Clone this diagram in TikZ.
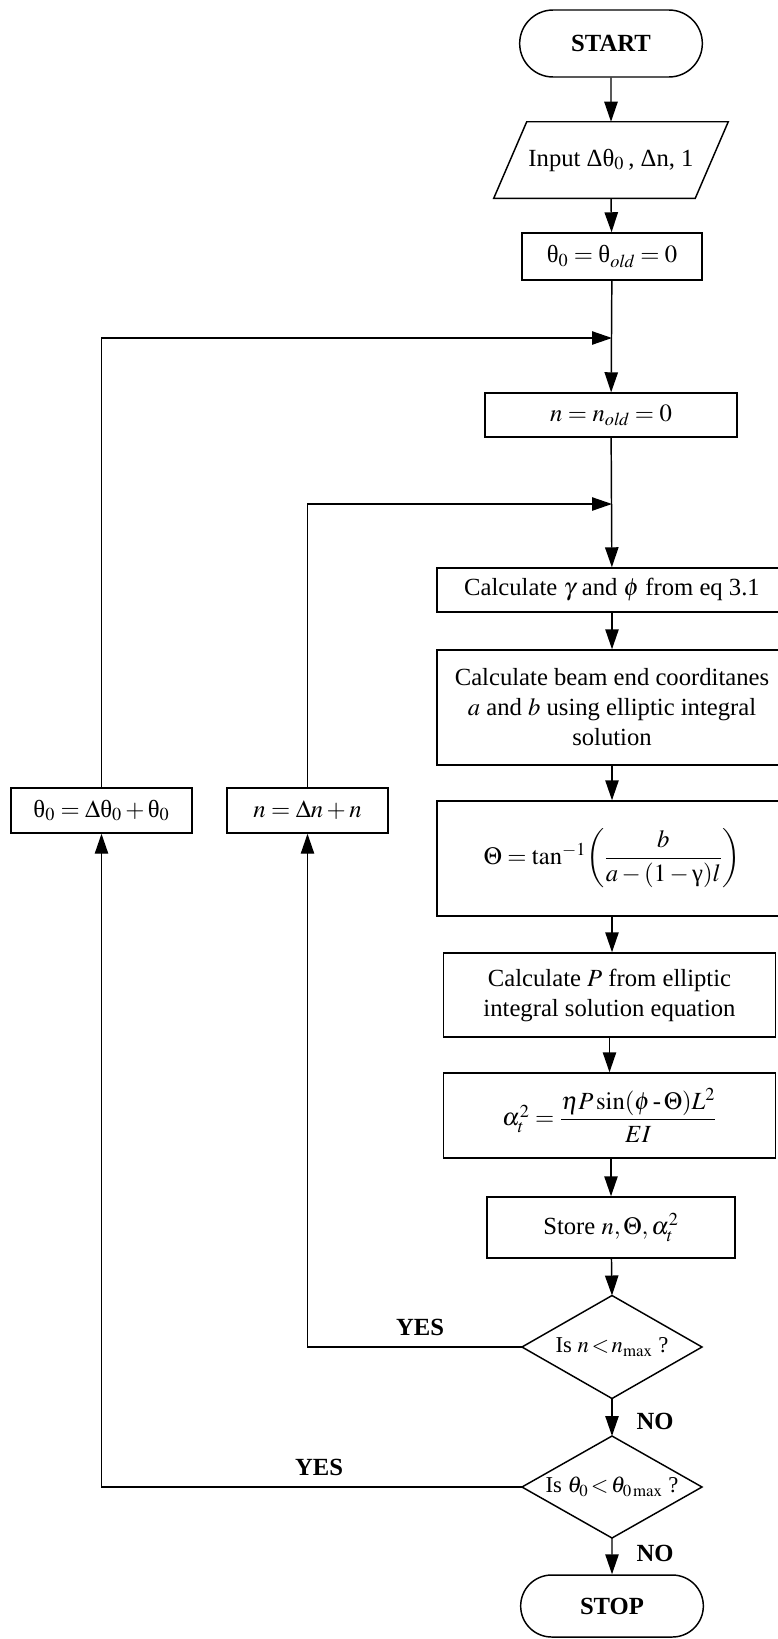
\documentclass[tikz,border=0pt]{standalone}
\usepackage{amsmath}
\usepackage{mathptmx}
\usepackage{fontspec}
\setmainfont{Liberation Serif}
\usetikzlibrary{calc,shapes.misc,arrows.meta}
\newcommand\fs{\fontsize{18.5}{22.5}\selectfont}
\newcommand\fsd{\fontsize{17}{20}\selectfont}
\newcommand\uth{\text{θ}}
\tikzset{
  ln/.style={line width=1.1pt},
  arr/.style={ln,-{Triangle[length=15pt,width=10pt]}},
  box/.style={draw,ln,rectangle,align=center,font=\fs,inner sep=2pt},
  txt/.style={align=center,font=\fs,inner sep=0pt},
  term/.style={draw,ln,rounded rectangle,font=\fs\bfseries,inner sep=2pt},
  lbl/.style={font=\fs\bfseries,inner sep=0pt}
}
\begin{document}
\begin{tikzpicture}[x=0.75pt,y=-0.75pt]
\useasboundingbox (0,0) rectangle (778,1639);
% main column
\node[term,minimum width=141pt,minimum height=50.25pt] (start) at (611,43.5) {START};
\node[txt,minimum width=150.75pt,minimum height=57pt] (inp) at (611,160) {Input Δθ$_0$\,, Δn, 1};
\draw[ln] ($(inp.north west)+(16.5,0)$) -- ($(inp.north east)+(16.5,0)$) -- ($(inp.south east)+(-16.5,0)$) -- ($(inp.south west)+(-16.5,0)$) -- cycle;
\node[box,minimum width=135pt,minimum height=35.25pt] (th0) at (612,256.5) {$\uth_0=\uth_{\mathit{old}}=0$};
\node[box,minimum width=189pt,minimum height=33pt] (nbox) at (611,415) {$n=n_{\mathit{old}}=0$};
\node[box,minimum width=262.5pt,minimum height=33pt] (gam) at (612,590) {Calculate $\gamma$ and $\phi$ from eq 3.1};
\node[box,minimum width=262.5pt,minimum height=86.25pt] (beam) at (612,707.5) {Calculate beam end coorditanes\\ $a$ and $b$ using elliptic integral\\ solution};
\node[box,minimum width=262.5pt,minimum height=86.25pt] (thet) at (612,858.5) {$\Theta=\tan^{-1}\!\left(\dfrac{b}{a-(1-\text{γ})l}\right)$};
\node[box,minimum width=249pt,minimum height=63pt] (pbox) at (609.5,995) {Calculate $P$ from elliptic\\ integral solution equation};
\node[box,minimum width=249pt,minimum height=63.75pt] (alph) at (609.5,1115.5) {$\alpha_t^2=\dfrac{\eta P\sin(\phi\,\text{-}\,\Theta)L^2}{EI}$};
\node[box,minimum width=186pt,minimum height=45.75pt] (store) at (611,1227.5) {Store $n,\Theta,\alpha_t^2$};
\coordinate (d1c) at (612,1347);
\node[txt,font=\fsd] (d1) at (d1c) {Is $n\!<\!n_{\max}$ ?};
\coordinate (d1n) at (612,1295.5);
\coordinate (d1s) at (612,1398.5);
\coordinate (d1w) at (522,1347);
\coordinate (d1e) at (702,1347);
\draw[ln] (d1n) -- (d1e) -- (d1s) -- (d1w) -- cycle;
\coordinate (d2c) at (612,1487);
\node[txt,font=\fsd] (d2) at (d2c) {Is $\theta_0\!<\!\theta_{0\max}$ ?};
\coordinate (d2n) at (612,1436);
\coordinate (d2s) at (612,1538);
\coordinate (d2w) at (522,1487);
\coordinate (d2e) at (702,1487);
\draw[ln] (d2n) -- (d2e) -- (d2s) -- (d2w) -- cycle;
\node[term,minimum width=141pt,minimum height=46.5pt] (stop) at (612,1606) {STOP};
% loop boxes
\node[box,minimum width=135.75pt,minimum height=33.75pt] (thup) at (101.5,810.5) {$\uth_0=\Delta\uth_0+\uth_0$};
\node[box,minimum width=120.75pt,minimum height=33.75pt] (nup) at (307.5,810.5) {$n=\Delta n+n$};
\coordinate (j1) at (612,338);
\coordinate (j2) at (612,504);
% connectors
\draw[arr] (start) -- (inp.north);
\draw[arr] (inp.south) -- (th0);
\draw[arr] (th0) -- (nbox);
\draw[arr] (nbox) -- (gam);
\draw[arr] (gam) -- (beam);
\draw[arr] (beam) -- (thet);
\draw[arr] (thet.south) -- (thet.south |- pbox.north);
\draw[arr] (pbox) -- (alph);
\draw[arr] (store.north |- alph.south) -- (store.north);
\draw[arr] (store) -- (d1n);
\draw[arr] (d1s) -- (d2n);
\draw[arr] (d2s) -- (stop);
\draw[arr] (d1w) -| (nup.south);
\draw[arr] (nup.north) |- (j2);
\draw[arr] (d2w) -| (thup.south);
\draw[arr] (thup.north) |- (j1);
% labels
\node[lbl] (y1) at (420,1327) {YES};
\node[lbl] (y2) at (319,1467) {YES};
\node[lbl] (n1) at (655,1421) {NO};
\node[lbl] (n2) at (655,1553) {NO};
\end{tikzpicture}
\end{document}
